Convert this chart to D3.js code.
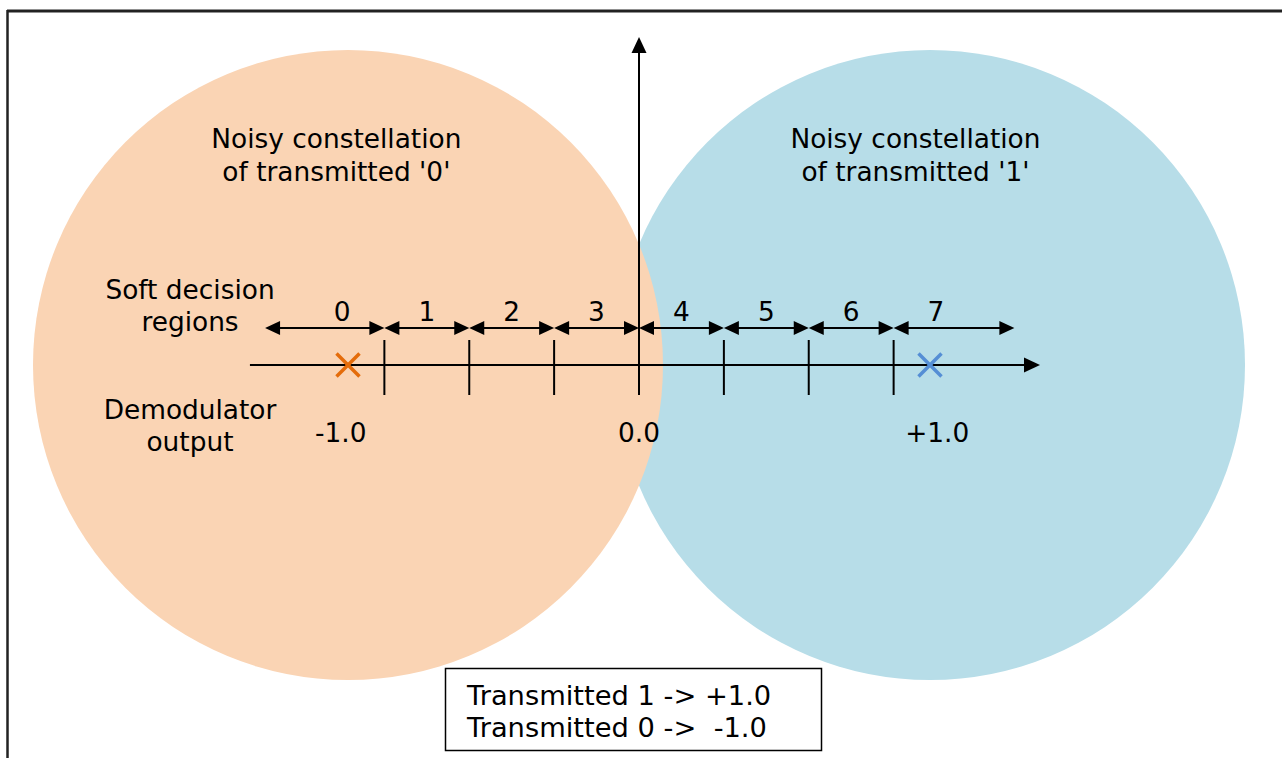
<!DOCTYPE html>
<html>
<head>
<meta charset="utf-8">
<script src="https://cdn.jsdelivr.net/npm/d3@7/dist/d3.min.js"></script>
<style>
  html, body { margin: 0; padding: 0; background: #ffffff; }
  svg { display: block; }
  text { font-family: "DejaVu Sans", Verdana, sans-serif; fill: #000; }
</style>
</head>
<body>
<svg id="chart" width="1282" height="758"></svg>
<script>
// ---- data ----
const regionLabels = ["0", "1", "2", "3", "4", "5", "6", "7"];
const thresholds = [-0.875, -0.5833, -0.2917, 0, 0.2917, 0.5833, 0.875];
const regionOuter = [-1.285, 1.29];          // outer ends of regions 0 and 7
const regionLabelPos = [-1.02, -0.729, -0.4375, -0.146, 0.146, 0.4375, 0.729, 1.02];
const symbolValues = [-1, 1];                // transmitted '0' -> -1, '1' -> +1
const outputTickLabels = ["-1.0", "0.0", "+1.0"];
const outputTickPos = [-1.025, 0, 1.025];
const axisExtent = [-1.337, 1.378];
const cloudLines = [["Noisy constellation", "of transmitted '0'"],
                    ["Noisy constellation", "of transmitted '1'"]];
const cloudTextPos = [-1.04, 0.95];
const cloudRadius = 1.0825;                  // in data units
const legendLines = ["Transmitted 1 -> +1.0", "Transmitted 0 ->  -1.0"];
const sideLabels = [["Soft decision", "regions"], ["Demodulator", "output"]];

// ---- layout ----
const svg = d3.select("#chart");
const x = d3.scaleLinear().domain([-1, 1]).range([348, 930]);
const axisY = 365, regionY = 328;
const fontSize = 26.4;

// frame
svg.append("line").attr("x1", 7).attr("x2", 1282).attr("y1", 11).attr("y2", 11)
  .attr("stroke", "#222").attr("stroke-width", 3);
svg.append("line").attr("x1", 7.5).attr("x2", 7.5).attr("y1", 10).attr("y2", 758)
  .attr("stroke", "#222").attr("stroke-width", 2.5);

// noise clouds (blue underneath, orange on top)
const cloudColors = ["#FAD4B4", "#B7DDE8"];
const rPx = x(cloudRadius) - x(0);
[1, 0].forEach(i => {
  svg.append("circle").attr("cx", x(symbolValues[i])).attr("cy", axisY)
    .attr("r", rPx).attr("fill", cloudColors[i]);
});

// cloud labels
cloudLines.forEach((lines, i) => {
  const t = svg.append("text").attr("text-anchor", "middle").attr("font-size", fontSize);
  lines.forEach((l, j) => t.append("tspan").attr("x", x(cloudTextPos[i])).attr("y", 148 + j * 33).text(l));
});

// side labels
sideLabels.forEach((lines, i) => {
  const t = svg.append("text").attr("text-anchor", "middle").attr("font-size", fontSize);
  lines.forEach((l, j) => t.append("tspan").attr("x", 190).attr("y", (i === 0 ? 299 : 419) + j * 32).text(l));
});

// helpers
function arrowHead(tipX, tipY, dir, len, half) {
  let pts;
  if (dir === "r") pts = [[tipX, tipY], [tipX - len, tipY - half], [tipX - len, tipY + half]];
  else if (dir === "l") pts = [[tipX, tipY], [tipX + len, tipY - half], [tipX + len, tipY + half]];
  else pts = [[tipX, tipY], [tipX - half, tipY + len], [tipX + half, tipY + len]];
  svg.append("path").attr("d", "M" + pts.map(p => p.join(",")).join("L") + "Z").attr("fill", "#000");
}

// main horizontal axis
svg.append("line").attr("x1", x(axisExtent[0])).attr("x2", x(axisExtent[1]) - 10)
  .attr("y1", axisY).attr("y2", axisY).attr("stroke", "#000").attr("stroke-width", 2);
arrowHead(x(axisExtent[1]), axisY, "r", 16, 7.5);

// vertical axis
svg.append("line").attr("x1", x(0)).attr("x2", x(0)).attr("y1", 395).attr("y2", 48)
  .attr("stroke", "#000").attr("stroke-width", 2);
arrowHead(x(0), 37, "u", 16, 7.5);

// threshold ticks
svg.selectAll(".tick").data(thresholds).enter().append("line")
  .attr("x1", d => x(d)).attr("x2", d => x(d)).attr("y1", 340).attr("y2", 395)
  .attr("stroke", "#000").attr("stroke-width", 2);

// region double arrows
const edges = [regionOuter[0], ...thresholds, regionOuter[1]];
regionLabels.forEach((lab, i) => {
  const a = x(edges[i]), b = x(edges[i + 1]);
  svg.append("line").attr("x1", a + 8).attr("x2", b - 8).attr("y1", regionY).attr("y2", regionY)
    .attr("stroke", "#000").attr("stroke-width", 2.2);
  arrowHead(a, regionY, "l", 15, 7);
  arrowHead(b, regionY, "r", 15, 7);
  svg.append("text").attr("x", x(regionLabelPos[i])).attr("y", 321)
    .attr("text-anchor", "middle").attr("font-size", fontSize).text(lab);
});

// symbol markers
const markColors = ["#E46C0A", "#558ED5"];
symbolValues.forEach((v, i) => {
  const cx = x(v), s = 11.5;
  svg.append("path")
    .attr("d", `M${cx - s},${axisY - s}L${cx + s},${axisY + s}M${cx - s},${axisY + s}L${cx + s},${axisY - s}`)
    .attr("stroke", markColors[i]).attr("stroke-width", 3.5).attr("fill", "none");
});

// output tick labels
outputTickLabels.forEach((lab, i) => {
  svg.append("text").attr("x", x(outputTickPos[i])).attr("y", 442)
    .attr("text-anchor", "middle").attr("font-size", fontSize).text(lab);
});

// legend box
svg.append("rect").attr("x", 445.5).attr("y", 668.5).attr("width", 376).attr("height", 82)
  .attr("fill", "#fff").attr("stroke", "#000").attr("stroke-width", 1.5);
legendLines.forEach((l, j) => {
  svg.append("text").attr("x", 467).attr("y", 705 + j * 32).attr("font-size", 27.3)
    .attr("xml:space", "preserve").style("white-space", "pre").text(l);
});
</script>
</body>
</html>
